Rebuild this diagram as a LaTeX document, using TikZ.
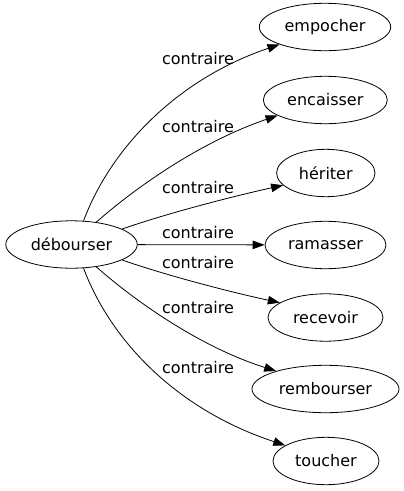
\documentclass[tikz,border=0pt]{standalone}
\usepackage{fontspec}
\setmainfont{DejaVu Sans}
\usetikzlibrary{shapes.geometric,arrows.meta}
\begin{document}
\begin{tikzpicture}[x=1pt,y=-1pt,
  word/.style={draw,ellipse,inner sep=0pt,minimum height=47.4pt,line width=0.8pt,font=\fontsize{16}{18}\selectfont},
  lab/.style={inner sep=0pt,font=\fontsize{16}{18}\selectfont},
  rel/.style={line width=0.8pt,-{Triangle[length=12pt,width=8.5pt]}}]
\useasboundingbox (0,0) rectangle (404,491);
\node[word,minimum width=131.4pt] (src) at (71.5,244.5) {débourser};
\node[word,minimum width=131.4pt] (t1) at (325,27) {empocher};
\node[word,minimum width=124pt] (t2) at (325.3,100) {encaisser};
\node[word,minimum width=98.4pt] (t3) at (325.8,173) {hériter};
\node[word,minimum width=121pt] (t4) at (325.5,245) {ramasser};
\node[word,minimum width=115pt] (t5) at (325.5,317.5) {recevoir};
\node[word,minimum width=147pt] (t6) at (325.5,389) {rembourser};
\node[word,minimum width=106pt] (t7) at (326,461) {toucher};
\draw[rel] (src.63) .. controls (110,150) and (175,80) .. (t1.201);
\draw[rel] (src.42) .. controls (135,188) and (200,142) .. (t2.198);
\draw[rel] (src.17) .. controls (165,214) and (230,197) .. (t3.196);
\draw[rel] (src) -- (t4);
\draw[rel] (src.-17) .. controls (165,275) and (230,292) .. (t5.162);
\draw[rel] (src.-42) .. controls (135,301) and (200,347) .. (t6.160);
\draw[rel] (src.-63) .. controls (110,339) and (175,409) .. (t7.159);
\node[lab] (l1) at (198,59) {contraire};
\node[lab] (l2) at (198,127) {contraire};
\node[lab] (l3) at (198,188) {contraire};
\node[lab] (l4) at (198,233) {contraire};
\node[lab] (l5) at (198,263) {contraire};
\node[lab] (l6) at (198,308) {contraire};
\node[lab] (l7) at (198,368) {contraire};
\end{tikzpicture}
\end{document}
